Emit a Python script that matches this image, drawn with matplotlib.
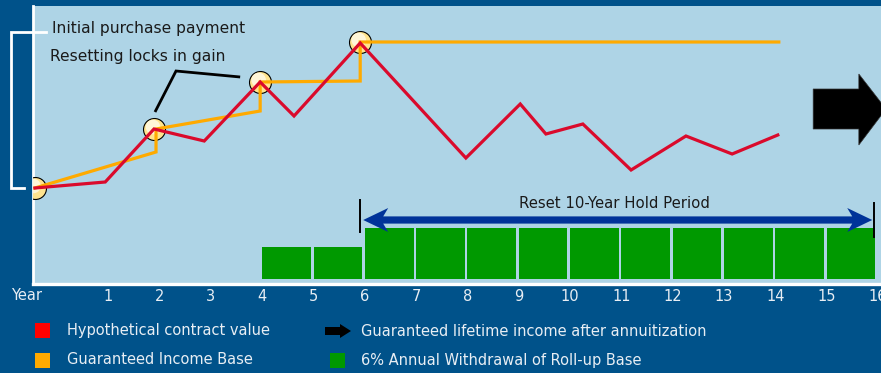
import matplotlib
matplotlib.use('Agg')
import matplotlib.pyplot as plt
from matplotlib.patches import Polygon, Rectangle
import numpy as np

# ---------------- data ----------------
tick_years = list(range(1, 17))
tick_labels = [str(y) for y in tick_years]

contract_years = [-0.43, 0.94, 1.89, 2.87, 3.96, 4.62, 5.91, 7.97, 9.03, 9.53,
                  10.25, 11.19, 12.26, 13.16, 14.05]
contract_value = [91, 97, 150, 138, 197, 163, 236, 121, 175, 145, 155, 109,
                  143, 125, 144]

base_years = [-0.43, 1.93, 1.93, 3.96, 3.96, 5.91, 5.91, 14.07]
income_base = [91, 127, 150, 168, 197, 198, 237, 237]

reset_years = [-0.43, 1.90, 3.96, 5.91]
reset_values = [91, 150, 197, 237]

withdrawal_years = list(range(4, 16))
withdrawal_heights = [32, 32, 51, 51, 51, 51, 51, 51, 51, 51, 51, 51]

hold_start, hold_end = 5.91, 15.93

# ---------------- style ----------------
W, H, DPI = 881, 373, 100
BG = '#00528A'
PLOT_BG = '#AED4E6'
RED = '#DA0A2C'
ORANGE = '#FFAA00'
GREEN = '#009900'
ARROW_BLUE = '#003399'
TXT_LIGHT = '#E8EEF4'
TXT_DARK = '#1A1A1A'

fig = plt.figure(figsize=(W / DPI, H / DPI), dpi=DPI, facecolor=BG)


def fx(px):
    return px / W


def fy(py):
    return 1 - py / H


ax_left, ax_right, ax_top, ax_bot = 33, 881, 6, 283.5
ax = fig.add_axes([fx(ax_left), fy(ax_bot), fx(ax_right) - fx(ax_left),
                   fy(ax_top) - fy(ax_bot)])
ax.set_facecolor(PLOT_BG)
ax.set_xlim(-0.468, 16.062)
ax.set_ylim(-4.5, 273)

for s in ['top', 'right']:
    ax.spines[s].set_visible(False)
ax.spines['left'].set_color('white')
ax.spines['left'].set_linewidth(2.0)
ax.spines['bottom'].set_color('white')
ax.spines['bottom'].set_linewidth(2.4)
ax.set_yticks([])
ax.set_xticks(tick_years)
ax.set_xticklabels(tick_labels)
ax.tick_params(axis='x', length=0, pad=4, labelsize=10.5, labelcolor=TXT_LIGHT)

# year unit in pixels for sizing decorations
YR = 51.3

# green bars
ax.bar(withdrawal_years, withdrawal_heights, width=0.95, align='edge',
       color=GREEN, edgecolor='none', zorder=2)

# circles (reset points)
ax.scatter(reset_years, reset_values, s=250, facecolor='#FFE48E',
           edgecolor='black', linewidth=0.8, zorder=3)
ax.scatter(np.array(reset_years) - 1.5 / YR, np.array(reset_values) + 2, s=110,
           facecolor='#FFF6D8', edgecolor='none', zorder=3.1)

# lines
ax.plot(base_years, income_base, color=ORANGE, lw=2.3, zorder=4,
        solid_joinstyle='miter')
ax.plot(contract_years, contract_value, color=RED, lw=2.3, zorder=5,
        solid_joinstyle='miter')

# hold period double arrow
yc = 59
shaft = 3.6
head_h = 12
head_l = 25 / YR
x0 = hold_start + 3 / YR
x1 = hold_end - 2 / YR
arrow_pts = [
    (x0, yc), (x0 + head_l, yc + head_h), (x0 + head_l * 0.8, yc + shaft),
    (x1 - head_l * 0.8, yc + shaft), (x1 - head_l, yc + head_h), (x1, yc),
    (x1 - head_l, yc - head_h), (x1 - head_l * 0.8, yc - shaft),
    (x0 + head_l * 0.8, yc - shaft), (x0 + head_l, yc - head_h)]
ax.add_patch(Polygon(arrow_pts, closed=True, facecolor=ARROW_BLUE,
                     edgecolor='none', zorder=6))
ax.plot([hold_start, hold_start], [47, 79], color='black', lw=1.4, zorder=6)
ax.plot([hold_end, hold_end], [42, 76], color='black', lw=1.4, zorder=6)
ax.text((hold_start + hold_end) / 2 - 0.05, 76, 'Reset 10-Year Hold Period',
        ha='center', va='center', fontsize=10.7, color=TXT_DARK, zorder=6)

# big black arrow on the right
big_x = [14.74, 15.63, 15.63, 16.16, 15.63, 15.63, 14.74]
big_y = [190, 190, 205, 170, 134, 150, 150]
ax.add_patch(Polygon(list(zip(big_x, big_y)), closed=True, facecolor='black',
                     edgecolor='#333333', lw=0.5, zorder=6))

# annotations
ax.text(-0.10, 251, 'Initial purchase payment', ha='left', va='center',
        fontsize=11.2, color=TXT_DARK, zorder=7)
ax.text(-0.14, 223, 'Resetting locks in gain', ha='left', va='center',
        fontsize=11.2, color=TXT_DARK, zorder=7)
ax.plot([1.91, 2.32, 3.57], [167, 208, 202], color='black', lw=2.0, zorder=7,
        solid_joinstyle='miter', solid_capstyle='butt')

# white bracket
ax.plot([-0.214, -0.897, -0.897, -0.643], [247, 247, 91, 91], color='white',
        lw=2.0, clip_on=False, zorder=7, solid_joinstyle='miter')

# "Year" label
ax.text(-0.585, -4.5 - 12.5, 'Year', ha='center', va='center', fontsize=10.5,
        color=TXT_LIGHT, clip_on=False)

# ---------------- legend ----------------
def square(px0, py0, size, color):
    fig.add_artist(Rectangle((fx(px0), fy(py0 + size)), size / W, size / H,
                             transform=fig.transFigure, facecolor=color,
                             edgecolor='none'))


square(35, 323, 15, '#FF0000')
square(35, 353, 15, ORANGE)
square(330, 353, 15, GREEN)
fig.text(fx(67), fy(331), 'Hypothetical contract value', ha='left',
         va='center', fontsize=10.5, color=TXT_LIGHT)
fig.text(fx(67), fy(360), 'Guaranteed Income Base', ha='left', va='center',
         fontsize=10.5, color=TXT_LIGHT)
fig.text(fx(361), fy(331), 'Guaranteed lifetime income after annuitization',
         ha='left', va='center', fontsize=10.5, color=TXT_LIGHT)
fig.text(fx(361), fy(360), '6% Annual Withdrawal of Roll-up Base', ha='left',
         va='center', fontsize=10.5, color=TXT_LIGHT)

leg_arrow = [(325, 327), (340, 327), (340, 324), (351, 331), (340, 338),
             (340, 335), (325, 335)]
fig.add_artist(Polygon([(fx(a), fy(b)) for a, b in leg_arrow], closed=True,
                       transform=fig.transFigure, facecolor='black',
                       edgecolor='none'))

fig.savefig('out.png', dpi=DPI, facecolor=BG)
